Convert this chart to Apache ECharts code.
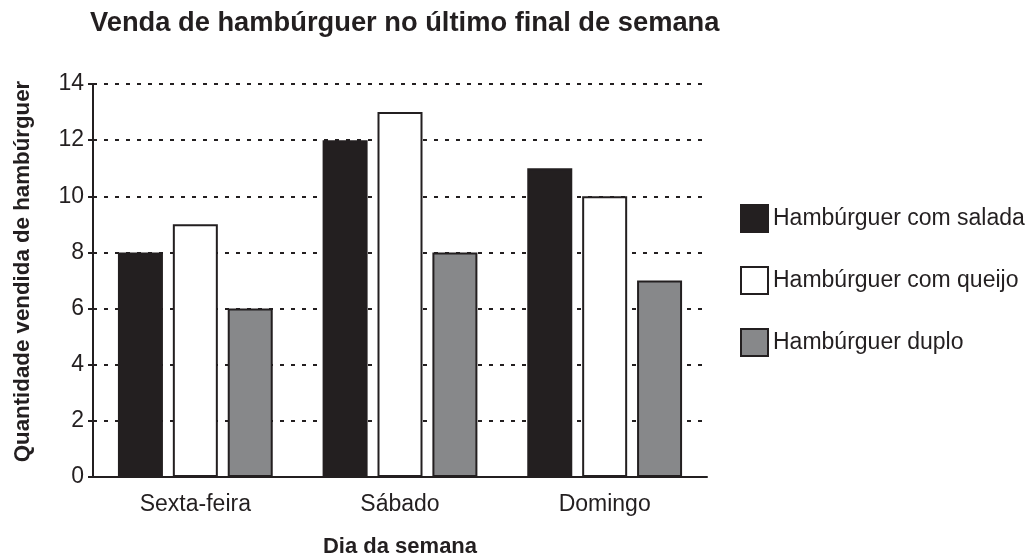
<!DOCTYPE html>
<html>
<head>
<meta charset="utf-8">
<script src="https://cdn.jsdelivr.net/npm/echarts@6/dist/echarts.min.js"></script>
<style>html,body{margin:0;padding:0;background:#fff}#c{width:1032px;height:556px}</style>
</head>
<body>
<div id="c"></div>
<script>
const categories = ['Sexta-feira', 'Sábado', 'Domingo'];
const seriesNames = ['Hambúrguer com salada', 'Hambúrguer com queijo', 'Hambúrguer duplo'];
const salada = [8, 12, 11];
const queijo = [9, 13, 10];
const duplo = [6, 8, 7];
const yTicks = { min: 0, max: 14, interval: 2 };

const FONT = "'Liberation Sans', Arial, sans-serif";
const INK = '#231f20';
const chart = echarts.init(document.getElementById('c'));
const barStyle = (fill) => ({ color: fill, borderColor: INK, borderWidth: 2 });

chart.setOption({
  animation: false,
  title: {
    text: 'Venda de hambúrguer no último final de semana',
    left: 85, top: 5,
    textStyle: { fontFamily: FONT, fontSize: 27.3, fontWeight: 'bold', color: INK }
  },
  legend: {
    orient: 'vertical', left: 735, top: 199,
    itemWidth: 27, itemHeight: 27, itemGap: 33,
    icon: 'rect',
    textStyle: { fontFamily: FONT, fontSize: 23, color: INK },
    data: seriesNames
  },
  grid: { left: 93, right: 325, top: 84, bottom: 79, outerBoundsMode: 'none', containLabel: false },
  xAxis: {
    type: 'category', data: categories,
    name: 'Dia da semana', nameLocation: 'middle', nameGap: 59,
    nameTextStyle: { fontFamily: FONT, fontSize: 22, fontWeight: 'bold', color: INK },
    axisLine: { lineStyle: { color: INK, width: 2 } },
    axisTick: { show: false },
    axisLabel: { fontFamily: FONT, fontSize: 23, color: INK, margin: 16 }
  },
  yAxis: {
    type: 'value', min: yTicks.min, max: yTicks.max, interval: yTicks.interval,
    name: 'Quantidade vendida de hambúrguer', nameLocation: 'middle', nameGap: 59,
    nameTextStyle: { fontFamily: FONT, fontSize: 22.3, fontWeight: 'bold', color: INK, padding: [0, 0, 0, 18] },
    axisLine: { show: true, lineStyle: { color: INK, width: 2 } },
    axisTick: { show: true, length: 5, lineStyle: { color: INK, width: 2 } },
    axisLabel: { fontFamily: FONT, fontSize: 23, color: INK, margin: 9 },
    splitLine: { show: true, lineStyle: { color: INK, width: 2, type: [4, 7] } }
  },
  series: [
    { name: seriesNames[0], type: 'bar', data: salada, barWidth: 45, barGap: '22%', itemStyle: barStyle('#231f20') },
    { name: seriesNames[1], type: 'bar', data: queijo, barWidth: 45, barGap: '22%', itemStyle: barStyle('#ffffff') },
    { name: seriesNames[2], type: 'bar', data: duplo, barWidth: 45, barGap: '22%', itemStyle: barStyle('#87888a') }
  ]
});
</script>
</body>
</html>
